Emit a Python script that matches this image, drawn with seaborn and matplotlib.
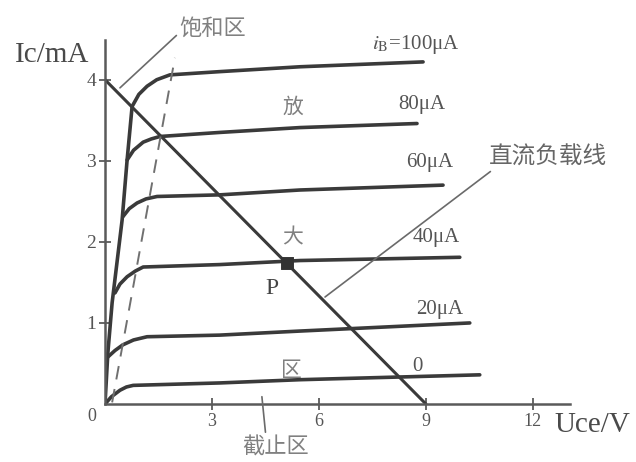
import pandas as pd
import seaborn as sns
import matplotlib.pyplot as plt

# output characteristic curves (Uce in V, Ic in mA)
uce_100 = [0.0, 0.08, 0.20, 0.48, 0.62, 0.76, 0.95, 1.18, 1.45, 1.82, 3.22, 5.47, 8.92]
ic_100 = [0.0, 0.63, 1.25, 2.27, 3.01, 3.67, 3.82, 3.92, 4.00, 4.06, 4.10, 4.16, 4.22]
uce_80 = [0.62, 0.80, 1.07, 1.30, 1.54, 3.22, 5.47, 8.75]
ic_80 = [3.01, 3.13, 3.23, 3.27, 3.30, 3.35, 3.41, 3.46]
uce_60 = [0.50, 0.68, 0.90, 1.15, 1.46, 3.22, 5.47, 9.48]
ic_60 = [2.31, 2.41, 2.48, 2.53, 2.56, 2.58, 2.64, 2.70]
uce_40 = [0.28, 0.42, 0.62, 0.85, 1.07, 3.22, 5.47, 9.95]
ic_40 = [1.37, 1.48, 1.57, 1.64, 1.69, 1.72, 1.77, 1.81]
uce_20 = [0.08, 0.28, 0.50, 0.80, 1.18, 3.22, 5.47, 10.23]
ic_20 = [0.58, 0.66, 0.73, 0.79, 0.83, 0.85, 0.90, 1.00]
uce_0 = [0.0, 0.18, 0.42, 0.60, 0.79, 3.22, 5.47, 10.51]
ic_0 = [0.0, 0.09, 0.17, 0.21, 0.23, 0.26, 0.30, 0.36]

curve_names = ['100', '80', '60', '40', '20', '0']
curve_uce = [uce_100, uce_80, uce_60, uce_40, uce_20, uce_0]
curve_ic = [ic_100, ic_80, ic_60, ic_40, ic_20, ic_0]
curve_labels = [r'$i_{\mathrm{B}}$=100μA', '80μA', '60μA', '40μA', '20μA', '0']

# dc load line and saturation boundary
load_uce = [0.0, 9.0]
load_ic = [4.0, 0.0]
sat_uce = [0.20, 1.96]
sat_ic = [0.02, 4.27]

# operating point P
p_uce = [5.10]
p_ic = [1.74]

x_ticks = [3, 6, 9, 12]
y_ticks = [1, 2, 3, 4]

LINE = '#3a3a3a'
AXIS = '#5a5a5a'
TEXT = '#555555'
CJK_TEXT = '#808080'
SERIF = 'Liberation Serif'
CJK = ['Noto Sans CJK SC', 'DejaVu Sans']

sns.set_style('white')
plt.rcParams['font.family'] = [SERIF, 'Noto Sans CJK SC', 'DejaVu Sans']
plt.rcParams['mathtext.fontset'] = 'stix'

rows = []
for name, xs, ys in zip(curve_names, curve_uce, curve_ic):
    for x, y in zip(xs, ys):
        rows.append({'Uce': x, 'Ic': y, 'curve': name})
curves_df = pd.DataFrame(rows)

fig = plt.figure(figsize=(6.36, 4.62), dpi=100)
ax = fig.add_axes([0.1651, 0.1255, 0.7311, 0.7879])

sns.lineplot(data=curves_df, x='Uce', y='Ic', hue='curve', units='curve', estimator=None,
             sort=False, palette=[LINE] * len(curve_names), linewidth=2.6,
             legend=False, ax=ax)
sns.lineplot(x=load_uce, y=load_ic, color=LINE, linewidth=2.2, ax=ax)
sns.lineplot(x=sat_uce, y=sat_ic, color='#707070', linewidth=1.4, linestyle=(0, (7, 5)), ax=ax)
sns.scatterplot(x=p_uce, y=p_ic, marker='s', s=70, color='#333333', edgecolor=None, ax=ax, zorder=5)

ax.set_xlim(0, 13.04)
ax.set_ylim(0, 4.49)
ax.set_xticks(x_ticks)
ax.set_yticks(y_ticks)
ax.set_xticklabels([str(t) for t in x_ticks], fontsize=13, color=TEXT, family=SERIF)
ax.set_yticklabels([str(t) for t in y_ticks], fontsize=14, color=TEXT, family=SERIF)
ax.tick_params(bottom=True, left=True, direction='inout', length=9, width=1.3, color=AXIS, pad=2)
ax.set_xlabel('')
ax.set_ylabel('')
sns.despine(ax=ax)
for side in ['left', 'bottom']:
    ax.spines[side].set_color(AXIS)
    ax.spines[side].set_linewidth(1.8)

# axis titles and origin
ax.text(-1.49, 4.31, 'Ic/mA', fontsize=21, color='#4a4a4a', ha='center', va='center', clip_on=False)
ax.text(13.68, -0.26, 'Uce/V', fontsize=21, color='#4a4a4a', ha='center', va='center', clip_on=False)
ax.text(-0.36, -0.16, '0', fontsize=13, color=TEXT, ha='center', va='center', clip_on=False)

# curve labels
label_pos = [(8.72, 4.43), (8.89, 3.69), (9.11, 2.98), (9.28, 2.05), (9.39, 1.16), (8.77, 0.46)]
for text, (x, y) in zip(curve_labels, label_pos):
    ax.text(x, y, text, fontsize=15, color=TEXT, ha='center', va='center', clip_on=False)

ax.text(4.68, 1.43, 'P', fontsize=17, color='#444444', ha='center', va='center')

# region names
ax.text(5.27, 3.67, '放', fontsize=15, color=CJK_TEXT, family=CJK, ha='center', va='center')
ax.text(5.27, 2.06, '大', fontsize=15, color=CJK_TEXT, family=CJK, ha='center', va='center')
ax.text(5.24, 0.42, '区', fontsize=15, color=CJK_TEXT, family=CJK, ha='center', va='center')

leader = dict(arrowstyle='-', color='#6a6a6a', lw=1.2, shrinkA=0, shrinkB=0)
ax.annotate('饱和区', xy=(0.42, 3.90), xytext=(3.03, 4.64), fontsize=16, color=CJK_TEXT,
            family=CJK, ha='center', va='center', annotation_clip=False,
            arrowprops=dict(leader, relpos=(0.0, 0.3)))
ax.annotate('截止区', xy=(4.40, 0.09), xytext=(4.79, -0.53), fontsize=16, color=CJK_TEXT,
            family=CJK, ha='center', va='center', annotation_clip=False,
            arrowprops=dict(leader, relpos=(0.35, 1.0)))
ax.annotate('直流负载线', xy=(6.17, 1.32), xytext=(12.42, 3.05), fontsize=17, color='#666666',
            family=CJK, ha='center', va='center', annotation_clip=False,
            arrowprops=dict(leader, relpos=(0.05, 0.0)))

fig.savefig('out.png', dpi=100)
plt.close(fig)
